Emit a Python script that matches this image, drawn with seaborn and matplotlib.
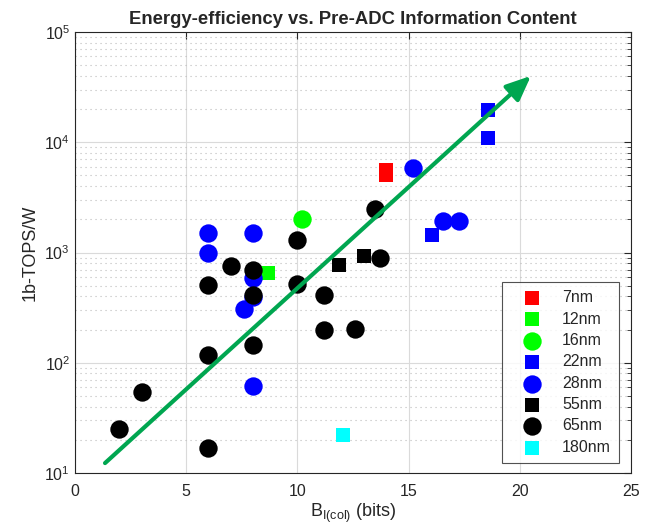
import numpy as np
import pandas as pd
import seaborn as sns
import matplotlib
matplotlib.use("Agg")
import matplotlib.pyplot as plt
from matplotlib.ticker import LogLocator, NullFormatter, MultipleLocator

sns.set_style("white")
plt.rcParams['font.family'] = ['Liberation Sans', 'DejaVu Sans']
plt.rcParams['mathtext.default'] = 'regular'

# ---- data ----
x_7nm = [14.0, 14.0]
y_7nm = [5600, 5000]
x_12nm = [8.7]
y_12nm = [650]
x_16nm = [10.2]
y_16nm = [2000]
x_22nm = [18.55, 18.55, 16.05]
y_22nm = [19500, 11000, 1450]
x_28nm = [15.2, 16.55, 17.25, 6.0, 6.0, 8.0, 8.0, 8.0, 7.6, 8.0]
y_28nm = [5800, 1950, 1950, 1500, 980, 1500, 590, 395, 310, 61]
x_55nm = [11.85, 13.0]
y_55nm = [770, 930]
x_65nm = [2.0, 3.0, 6.0, 6.0, 8.0, 6.0, 7.0, 8.0, 8.0, 10.0, 10.0, 11.2, 11.2, 12.6, 13.7, 13.5]
y_65nm = [25, 54, 17, 117, 145, 510, 750, 690, 410, 1300, 520, 410, 198, 202, 890, 2500]
x_180nm = [12.05]
y_180nm = [22]

trend_x = [1.35, 20.5]
trend_y = [12.3, 40000]

series = [
    ("7nm", x_7nm, y_7nm, "s", "#FF0000"),
    ("12nm", x_12nm, y_12nm, "s", "#00FF00"),
    ("16nm", x_16nm, y_16nm, "o", "#00FF00"),
    ("22nm", x_22nm, y_22nm, "s", "#0000FF"),
    ("28nm", x_28nm, y_28nm, "o", "#0000FF"),
    ("55nm", x_55nm, y_55nm, "s", "#000000"),
    ("65nm", x_65nm, y_65nm, "o", "#000000"),
    ("180nm", x_180nm, y_180nm, "s", "#00FFFF"),
]

fig = plt.figure(figsize=(6.52, 5.29), dpi=100)
ax = fig.add_axes([75/652, 1-473/529, (631-75)/652, (473-32)/529])

ax.set_yscale("log")
ax.set_xlim(0, 25)
ax.set_ylim(10, 1e5)

# grid
ax.xaxis.set_major_locator(MultipleLocator(5))
ax.yaxis.set_major_locator(LogLocator(base=10, numticks=10))
ax.yaxis.set_minor_locator(LogLocator(base=10, subs=np.arange(2, 10), numticks=10))
ax.yaxis.set_minor_formatter(NullFormatter())
ax.grid(True, which="major", color="#DADADA", linewidth=0.8, linestyle="-")
ax.grid(True, which="minor", axis="y", color="#BBBBBB", linewidth=0.8, linestyle=(0, (1, 3.5)))
ax.set_axisbelow(True)

for name, xs, ys, mk, col in series:
    df = pd.DataFrame({"x": xs, "y": ys})
    sz = 95 if mk == "s" else 175
    sns.scatterplot(data=df, x="x", y="y", marker=mk, color=col, s=sz,
                    linewidth=0, ax=ax, label=name, zorder=3)

ax.annotate("", xy=(trend_x[1], trend_y[1]), xytext=(trend_x[0], trend_y[0]),
            arrowprops=dict(arrowstyle="-|>,head_length=1.5,head_width=0.65",
                            color="#00A650", lw=3, shrinkA=0, shrinkB=0),
            zorder=4)

for sp in ax.spines.values():
    sp.set_color("#262626")
    sp.set_linewidth(0.8)
ax.tick_params(which="both", direction="in", top=True, right=True,
               colors="#262626", labelcolor="#262626", labelsize=11.5)
ax.tick_params(which="major", length=5, width=0.8)
ax.tick_params(which="minor", length=3, width=0.6)
ax.tick_params(axis="x", which="minor", bottom=False, top=False)
ax.tick_params(axis="x", pad=8)

ax.set_xlabel(r"B$_{I(col)}$ (bits)", fontsize=13, color="#262626", labelpad=2)
ax.set_ylabel("1b-TOPS/W", fontsize=13, color="#262626", labelpad=4)
ax.set_title("Energy-efficiency vs. Pre-ADC Information Content",
             fontsize=13.3, fontweight="bold", pad=6)

leg = ax.legend(loc="lower right", bbox_to_anchor=(0.978, 0.023),
                borderaxespad=0, fancybox=False, frameon=True, edgecolor="#262626",
                fontsize=11.5, handletextpad=0.45, labelspacing=0.4,
                borderpad=0.5, handlelength=2.8)
leg.get_frame().set_linewidth(0.8)

fig.savefig("out.png", dpi=100)
